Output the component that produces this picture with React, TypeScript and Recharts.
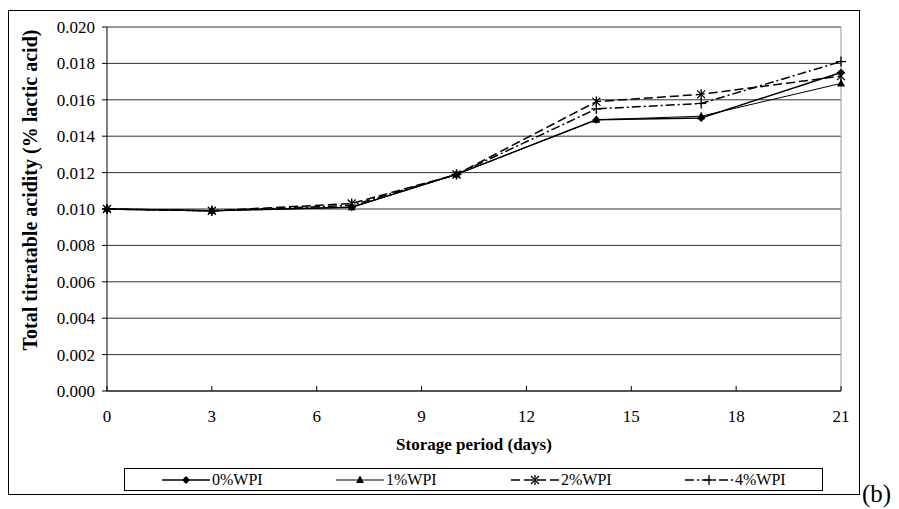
import React from "react"
import { LineChart, Line, XAxis, YAxis, CartesianGrid, ReferenceLine } from "recharts"

const days = [0, 3, 7, 10, 14, 17, 21]
const wpi0 = [0.01, 0.0099, 0.0101, 0.0119, 0.0149, 0.015, 0.0175]
const wpi1 = [0.01, 0.0099, 0.0101, 0.0119, 0.0149, 0.0151, 0.0169]
const wpi2 = [0.01, 0.0099, 0.0103, 0.0119, 0.0159, 0.0163, 0.0173]
const wpi4 = [0.01, 0.0099, 0.0102, 0.0119, 0.0155, 0.0158, 0.0181]
const xTicks = [0, 3, 6, 9, 12, 15, 18, 21]
const yTicks = [0, 0.002, 0.004, 0.006, 0.008, 0.01, 0.012, 0.014, 0.016, 0.018, 0.02]

const data = days.map((d, i) => ({ day: d, w0: wpi0[i], w1: wpi1[i], w2: wpi2[i], w4: wpi4[i] }))

const FONT = "'Liberation Serif', 'Times New Roman', serif"

type Marker = "diamond" | "triangle" | "asterisk" | "plus"

function markerShape(kind: Marker, cx: number, cy: number, key?: string | number) {
  if (kind === "diamond")
    return <path key={key} d={`M${cx},${cy - 4}L${cx + 4},${cy}L${cx},${cy + 4}L${cx - 4},${cy}Z`} fill="#000" />
  if (kind === "triangle")
    return <path key={key} d={`M${cx},${cy - 4.5}L${cx + 4},${cy + 3}L${cx - 4},${cy + 3}Z`} fill="#000" />
  if (kind === "asterisk")
    return (
      <g key={key} stroke="#000" strokeWidth={1.3}>
        <line x1={cx - 4} y1={cy - 4} x2={cx + 4} y2={cy + 4} />
        <line x1={cx - 4} y1={cy + 4} x2={cx + 4} y2={cy - 4} />
        <line x1={cx} y1={cy - 5} x2={cx} y2={cy + 5} />
      </g>
    )
  return (
    <g key={key} stroke="#000" strokeWidth={1.3}>
      <line x1={cx - 5} y1={cy} x2={cx + 5} y2={cy} />
      <line x1={cx} y1={cy - 5} x2={cx} y2={cy + 5} />
    </g>
  )
}

const series: { key: string; name: string; dash?: string; marker: Marker; width: number }[] = [
  { key: "w0", name: "0%WPI", marker: "diamond", width: 1.4 },
  { key: "w1", name: "1%WPI", marker: "triangle", width: 1 },
  { key: "w2", name: "2%WPI", dash: "9 4", marker: "asterisk", width: 1.5 },
  { key: "w4", name: "4%WPI", dash: "9 3 2 3", marker: "plus", width: 1.5 },
]

const XTick = (props: any) => {
  const { x, y, payload } = props
  return (
    <g>
      <line x1={x} y1={y} x2={x} y2={y - 5} stroke="#000" />
      <text x={x} y={y + 31} textAnchor="middle" fontSize={17} fontFamily={FONT} fill="#000">
        {payload.value}
      </text>
    </g>
  )
}

const YTitle = () => (
  <text
    x={29}
    y={182}
    transform="rotate(-90 29 182)"
    textAnchor="middle"
    fontSize={20}
    fontWeight="bold"
    fontFamily={FONT}
    fill="#000"
  >
    Total titratable acidity (% lactic acid)
  </text>
)

function LegendBox() {
  const starts = [38, 212, 387, 561]
  return (
    <svg width={700} height={24} style={{ position: "absolute", left: 116, top: 460 }}>
      <rect x={0.5} y={0.5} width={698} height={22} fill="#fff" stroke="#000" />
      {series.map((s, i) => (
        <g key={s.key}>
          <line x1={starts[i]} y1={12} x2={starts[i] + 48} y2={12} stroke="#000" strokeWidth={s.width} strokeDasharray={s.dash} />
          {markerShape(s.marker, starts[i] + 24, 12)}
          <text x={starts[i] + 50} y={17} fontSize={16} fontFamily={FONT} fill="#000">
            {s.name}
          </text>
        </g>
      ))}
    </svg>
  )
}

export default function App() {
  return (
    <div style={{ position: "relative", width: 891, height: 501, fontFamily: FONT }}>
      <div style={{ position: "absolute", left: 0, top: 2, width: 850, height: 483, border: "1px solid #000" }} />
      <LineChart
        width={891}
        height={501}
        data={data}
        margin={{ top: 19, right: 58, left: 39, bottom: 88 }}
        style={{ position: "absolute", left: 0, top: 0 }}
      >
        <CartesianGrid vertical={false} stroke="#333" horizontalValues={yTicks} />
        <ReferenceLine y={0.02} stroke="#999" />
        <ReferenceLine x={21} stroke="#999" />
        <XAxis
          type="number"
          dataKey="day"
          domain={[0, 21]}
          ticks={xTicks}
          tickSize={0}
          tickMargin={0}
          tick={<XTick />}
          axisLine={{ stroke: "#555", strokeWidth: 2 }}
          height={30}
          label={{ value: "Storage period (days)", position: "insideBottom", offset: -29, fontSize: 17, fontWeight: "bold", fill: "#000", fontFamily: FONT }}
        />
        <YAxis
          type="number"
          domain={[0, 0.02]}
          ticks={yTicks}
          tickFormatter={(v: number) => v.toFixed(3)}
          width={60}
          tickSize={5}
          tickMargin={7}
          tickLine={{ stroke: "#000" }}
          axisLine={{ stroke: "#000" }}
          tick={{ fontSize: 17, fill: "#000", fontFamily: FONT }}
          label={{ content: <YTitle /> }}
        />
        {series.map((s) => (
          <Line
            key={s.key}
            type="linear"
            dataKey={s.key}
            name={s.name}
            stroke="#000"
            strokeWidth={s.width}
            strokeDasharray={s.dash}
            isAnimationActive={false}
            dot={(p: any) => markerShape(s.marker, p.cx, p.cy, p.index)}
            activeDot={false}
          />
        ))}
      </LineChart>
      <LegendBox />
      <div style={{ position: "absolute", left: 854, top: 472, fontSize: 25, fontFamily: FONT }}>(b)</div>
    </div>
  )
}
